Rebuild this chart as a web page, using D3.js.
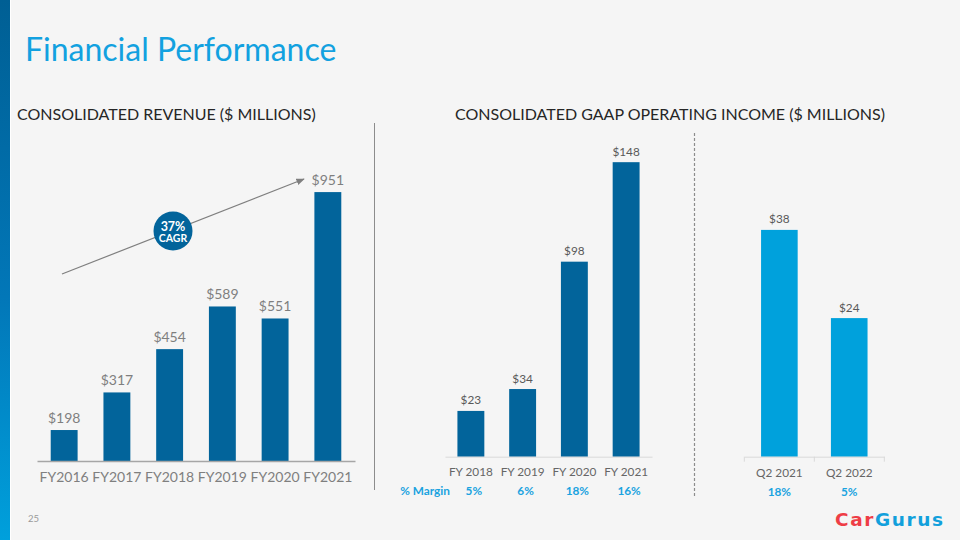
<!DOCTYPE html>
<html>
<head>
<meta charset="utf-8">
<script src="https://cdn.jsdelivr.net/npm/d3@7"></script>
<style>
  html, body { margin: 0; padding: 0; background: #f5f5f5; }
  svg { display: block; font-family: Lato, "Open Sans", sans-serif; }
</style>
</head>
<body>
<svg id="chart" width="960" height="540"></svg>
<script>
// ---- Data ----
const revCategories = ["FY2016", "FY2017", "FY2018", "FY2019", "FY2020", "FY2021"];
const revValues = [198, 317, 454, 589, 551, 951];
const revLabels = ["$198", "$317", "$454", "$589", "$551", "$951"];

const opCategories = ["FY 2018", "FY 2019", "FY 2020", "FY 2021"];
const opValues = [23, 34, 98, 148];
const opLabels = ["$23", "$34", "$98", "$148"];
const opMargins = ["5%", "6%", "18%", "16%"];

const qCategories = ["Q2 2021", "Q2 2022"];
const qValues = [38, 24];
const qLabels = ["$38", "$24"];
const qMargins = ["18%", "5%"];

// ---- Styles ----
const darkBlue = "#02649b";
const lightBlue = "#00a1dc";
const marginBlue = "#1aa3e0";

const svg = d3.select("#chart");
svg.append("rect").attr("width", 960).attr("height", 540).attr("fill", "#f5f5f5");

// sidebar gradient
const defs = svg.append("defs");
const grad = defs.append("linearGradient").attr("id", "side").attr("x1", 0).attr("y1", 0).attr("x2", 0).attr("y2", 1);
grad.append("stop").attr("offset", "0%").attr("stop-color", "#005f94");
grad.append("stop").attr("offset", "55%").attr("stop-color", "#0277b8");
grad.append("stop").attr("offset", "100%").attr("stop-color", "#00a0dc");
svg.append("rect").attr("x", 0).attr("y", 0).attr("width", 10).attr("height", 540).attr("fill", "url(#side)");
svg.append("rect").attr("x", 10).attr("y", 0).attr("width", 1).attr("height", 540).attr("fill", "#ffffff");

// arrow marker
defs.append("marker").attr("id", "arrow").attr("viewBox", "0 0 10 10")
  .attr("refX", 9).attr("refY", 5).attr("markerWidth", 7).attr("markerHeight", 7)
  .attr("orient", "auto")
  .append("path").attr("d", "M0,1 L10,5 L0,9 Z").attr("fill", "#7f7f7f");

// Title
svg.append("text").attr("x", 25).attr("y", 61).attr("fill", "#12a1e0")
  .attr("font-size", 32).text("Financial Performance");

svg.append("text").attr("x", 17).attr("y", 120).attr("fill", "#262626")
  .attr("font-size", 16).text("CONSOLIDATED REVENUE ($ MILLIONS)");
svg.append("text").attr("x", 455).attr("y", 120).attr("fill", "#262626")
  .attr("font-size", 16).text("CONSOLIDATED GAAP OPERATING INCOME ($ MILLIONS)");

// separators
svg.append("line").attr("x1", 374.5).attr("x2", 374.5).attr("y1", 123).attr("y2", 490)
  .attr("stroke", "#8c8c8c").attr("stroke-width", 1);
svg.append("line").attr("x1", 694.5).attr("x2", 694.5).attr("y1", 133).attr("y2", 497)
  .attr("stroke", "#8c8c8c").attr("stroke-width", 1.2).attr("stroke-dasharray", "3,2");

// ---- Revenue chart ----
const revBase = 461;
const xRev = d3.scaleBand().domain(revCategories).range([37, 355]).paddingInner(0.49).paddingOuter(0.26);
const yRev = d3.scaleLinear().domain([100, 1000]).range([revBase, revBase - 0.316 * 900]);

const gRev = svg.append("g");
gRev.selectAll("rect.bar").data(revValues).join("rect")
  .attr("class", "bar")
  .attr("x", (d, i) => xRev(revCategories[i]))
  .attr("width", xRev.bandwidth())
  .attr("y", d => yRev(d))
  .attr("height", d => revBase - yRev(d))
  .attr("fill", darkBlue);
gRev.selectAll("text.val").data(revValues).join("text")
  .attr("class", "val")
  .attr("x", (d, i) => xRev(revCategories[i]) + xRev.bandwidth() / 2)
  .attr("y", d => yRev(d) - 7)
  .attr("text-anchor", "middle").attr("font-size", 14).attr("fill", "#7f7f7f")
  .text((d, i) => revLabels[i]);

const axRev = svg.append("g").attr("transform", `translate(0,${revBase})`)
  .call(d3.axisBottom(xRev).tickSize(0).tickPadding(11));
axRev.select(".domain").attr("stroke", "#a6a6a6").attr("stroke-width", 1.5);
axRev.selectAll("text").attr("font-size", 14).attr("fill", "#7f7f7f").attr("font-family", "Lato");

// CAGR annotation
svg.append("line").attr("x1", 62).attr("y1", 274).attr("x2", 304).attr("y2", 179)
  .attr("stroke", "#7f7f7f").attr("stroke-width", 1.2).attr("marker-end", "url(#arrow)");
svg.append("circle").attr("cx", 173).attr("cy", 231).attr("r", 19.5).attr("fill", darkBlue);
svg.append("text").attr("x", 173).attr("y", 230.5).attr("text-anchor", "middle")
  .attr("fill", "#fff").attr("font-weight", "bold").attr("font-size", 12.5).text("37%");
svg.append("text").attr("x", 173).attr("y", 242).attr("text-anchor", "middle")
  .attr("fill", "#fff").attr("font-weight", "bold").attr("font-size", 10.5).text("CAGR");

// ---- Operating income chart ----
const opBase = 456.7;
const xOp = d3.scaleBand().domain(opCategories).range([445, 652]).paddingInner(0.48).paddingOuter(0.24);
const yOp = d3.scaleLinear().domain([0, 150]).range([opBase, opBase - 1.99 * 150]);

const gOp = svg.append("g");
gOp.selectAll("rect.bar").data(opValues).join("rect")
  .attr("class", "bar")
  .attr("x", (d, i) => xOp(opCategories[i]))
  .attr("width", xOp.bandwidth())
  .attr("y", d => yOp(d))
  .attr("height", d => opBase - yOp(d))
  .attr("fill", darkBlue);
gOp.selectAll("text.val").data(opValues).join("text")
  .attr("class", "val")
  .attr("x", (d, i) => xOp(opCategories[i]) + xOp.bandwidth() / 2)
  .attr("y", d => yOp(d) - 6.5)
  .attr("text-anchor", "middle").attr("font-size", 11.8).attr("fill", "#595959")
  .text((d, i) => opLabels[i]);

const axOp = svg.append("g").attr("transform", `translate(0,${opBase})`)
  .call(d3.axisBottom(xOp).tickSize(0).tickPadding(11));
axOp.select(".domain").attr("stroke", "#d9d9d9").attr("stroke-width", 1);
axOp.selectAll("text").attr("font-size", 11.8).attr("fill", "#666").attr("font-family", "Lato");

svg.append("text").attr("x", 450).attr("y", 495).attr("text-anchor", "end")
  .attr("fill", marginBlue).attr("font-weight", "bold").attr("font-size", 11.8).text("% Margin");
svg.append("g").selectAll("text").data(opMargins).join("text")
  .attr("x", (d, i) => xOp(opCategories[i]) + xOp.bandwidth() / 2 + 3)
  .attr("y", 495).attr("text-anchor", "middle")
  .attr("fill", marginBlue).attr("font-weight", "bold").attr("font-size", 11.8)
  .text(d => d);

// ---- Quarterly chart ----
const qBase = 456.7;
const xQ = d3.scaleBand().domain(qCategories).range([744.3, 884.3]).paddingInner(0.476).paddingOuter(0.24);
const yQ = d3.scaleLinear().domain([2, 40]).range([qBase, qBase - 6.3 * 38]);

const gQ = svg.append("g");
gQ.selectAll("rect.bar").data(qValues).join("rect")
  .attr("class", "bar")
  .attr("x", (d, i) => xQ(qCategories[i]))
  .attr("width", xQ.bandwidth())
  .attr("y", d => yQ(d))
  .attr("height", d => qBase - yQ(d))
  .attr("fill", lightBlue);
gQ.selectAll("text.val").data(qValues).join("text")
  .attr("class", "val")
  .attr("x", (d, i) => xQ(qCategories[i]) + xQ.bandwidth() / 2)
  .attr("y", d => yQ(d) - 6.5)
  .attr("text-anchor", "middle").attr("font-size", 11.8).attr("fill", "#595959")
  .text((d, i) => qLabels[i]);

const axQ = svg.append("g").attr("transform", `translate(0,${qBase})`)
  .call(d3.axisBottom(xQ).tickSize(0).tickPadding(12));
axQ.select(".domain").attr("stroke", "#d9d9d9").attr("stroke-width", 1);
axQ.selectAll("text").attr("font-size", 11.8).attr("fill", "#666").attr("font-family", "Lato");
// category boundary ticks
const qEdges = d3.range(qCategories.length + 1).map(i => xQ.range()[0] + i * (xQ.range()[1] - xQ.range()[0]) / qCategories.length);
axQ.selectAll("line.edge").data(qEdges).join("line").attr("class", "edge")
  .attr("x1", d => d).attr("x2", d => d).attr("y1", 0).attr("y2", 5)
  .attr("stroke", "#d9d9d9");

svg.append("g").selectAll("text").data(qMargins).join("text")
  .attr("x", (d, i) => xQ(qCategories[i]) + xQ.bandwidth() / 2)
  .attr("y", 496).attr("text-anchor", "middle")
  .attr("fill", marginBlue).attr("font-weight", "bold").attr("font-size", 11.8)
  .text(d => d);

// ---- Footer ----
svg.append("text").attr("x", 28).attr("y", 522).attr("fill", "#9a9a9a").attr("font-size", 9.5).text("25");
const logo = svg.append("text").attr("x", 835).attr("y", 526)
  .attr("font-family", "DejaVu Sans").attr("font-weight", "bold").attr("font-size", 18.5)
  .attr("textLength", 108).attr("lengthAdjust", "spacing");
logo.append("tspan").attr("fill", "#ee3d46").text("Car");
logo.append("tspan").attr("fill", "#12a0dc").text("Gurus");
</script>
</body>
</html>
